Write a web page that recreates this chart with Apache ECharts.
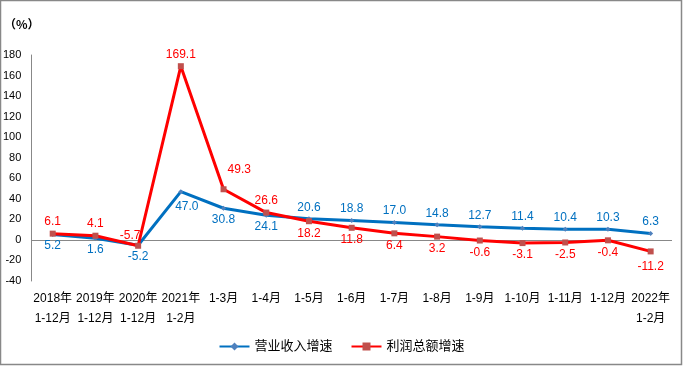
<!DOCTYPE html>
<html><head><meta charset="utf-8">
<script src="https://cdn.jsdelivr.net/npm/echarts@6/dist/echarts.min.js"></script>
<style>html,body{margin:0;padding:0;background:#fff}#c{width:683px;height:366px}</style>
</head><body><div id="c"></div>
<script>
const categories = ['2018年\n1-12月','2019年\n1-12月','2020年\n1-12月','2021年\n1-2月','1-3月','1-4月','1-5月','1-6月','1-7月','1-8月','1-9月','1-10月','1-11月','1-12月','2022年\n1-2月'];
const revenueGrowth = [5.2, 1.6, -5.2, 47.0, 30.8, 24.1, 20.6, 18.8, 17.0, 14.8, 12.7, 11.4, 10.4, 10.3, 6.3];
const profitGrowth = [6.1, 4.1, -5.7, 169.1, 49.3, 26.6, 18.2, 11.8, 6.4, 3.2, -0.6, -3.1, -2.5, -0.4, -11.2];
const revenueLabelPos = ['bottom','bottom','bottom','bottom','bottom','bottom','top','top','top','top','top','top','top','top','top'];
const profitLabelPos = ['top','top','top','top','right','top','bottom','bottom','bottom','bottom','bottom','bottom','bottom','bottom','bottom'];
const yTicks = {min: -40, max: 180, interval: 20};

const FONT = '"Liberation Sans","Noto Sans CJK SC",sans-serif';
const chart = echarts.init(document.getElementById('c'), null, {renderer: 'canvas'});

function mk(vals, pos, extra) {
  return vals.map((v, i) => {
    const p = pos[i];
    const lab = {position: p, distance: 3};
    if (p === 'right') { lab.position = 'insideBottomLeft'; lab.offset = [4, -14]; }
    if (extra && extra[i]) Object.assign(lab, extra[i]);
    return {value: v, label: lab};
  });
}

chart.setOption({
  animation: false,
  backgroundColor: '#fff',
  textStyle: {fontFamily: FONT},
  grid: {left: 31, right: 11, top: 55, bottom: 85},
  legend: {
    bottom: 8, left: 'center', itemWidth: 30, itemHeight: 10, itemGap: 18,
    textStyle: {fontSize: 13, color: '#000', fontFamily: FONT},
    data: ['营业收入增速', '利润总额增速']
  },
  graphic: [
    {type: 'rect', shape: {x: 0.5, y: 0.5, width: 681, height: 364}, style: {fill: 'none', stroke: '#888', lineWidth: 1.5}, silent: true},
    {type: 'text', left: 4, top: 18, style: {text: '（%）', font: 'bold 12px "Noto Sans CJK SC",sans-serif', fill: '#000'}}
  ],
  xAxis: {
    type: 'category', data: categories, boundaryGap: true,
    axisLine: {show: false}, axisTick: {show: false},
    axisLabel: {interval: 0, color: '#000', fontSize: 12, lineHeight: 20, margin: 8, fontFamily: FONT}
  },
  yAxis: {
    type: 'value', min: yTicks.min, max: yTicks.max, interval: yTicks.interval,
    splitLine: {show: false}, axisTick: {show: false},
    axisLine: {show: true, lineStyle: {color: '#888', width: 1}},
    axisLabel: {color: '#000', fontSize: 11, margin: 10, fontFamily: FONT}
  },
  series: [
    {
      name: '营业收入增速', type: 'line',
      data: mk(revenueGrowth, revenueLabelPos, {3: {offset: [6, 4]}}),
      symbol: 'diamond', symbolSize: 5, z: 3,
      lineStyle: {color: '#0070C0', width: 3},
      itemStyle: {color: '#4f81bd', borderWidth: 0},
      label: {show: true, color: '#0070C0', fontSize: 12, fontFamily: FONT, formatter: p => p.value.toFixed(1)},
      markLine: {silent: true, symbol: 'none', label: {show: false}, lineStyle: {color: '#888', width: 1, type: 'solid'}, data: [{yAxis: 0}], z: 1}
    },
    {
      name: '利润总额增速', type: 'line',
      data: mk(profitGrowth, profitLabelPos, {2: {offset: [-8, 2]}, 14: {distance: 6}}),
      symbol: 'rect', symbolSize: 6, z: 4,
      lineStyle: {color: '#FF0000', width: 3},
      itemStyle: {color: '#c0504d', borderWidth: 0},
      label: {show: true, color: '#FF0000', fontSize: 12, fontFamily: FONT, formatter: p => p.value.toFixed(1)}
    }
  ]
});
</script></body></html>
